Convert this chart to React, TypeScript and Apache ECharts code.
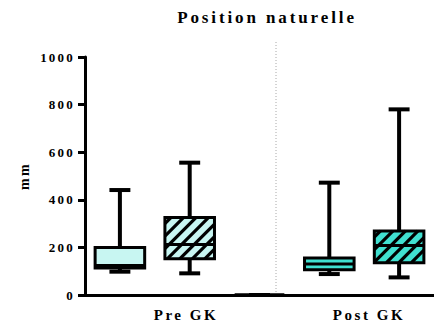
import React, { useEffect, useRef } from "react";
import * as echarts from "echarts";

// ---- data ----
const categories = ["Pre GK (1)", "Pre GK (2)", "", "Post GK (1)", "Post GK (2)"];
const groupLabels = ["Pre GK", "Post GK"];
const whiskerLow = [98, 91, 0, 88, 74];
const quartile1 = [113, 152, 0, 106, 136];
const medians = [124, 212, 0, 130, 208];
const quartile3 = [200, 326, 0, 155, 269];
const whiskerHigh = [441, 556, 0, 472, 780];
const yTicks = [0, 200, 400, 600, 800, 1000];
const titleText = "Position naturelle";
const yName = "mm";

// ---- styles ----
const FONT = "'Liberation Serif', 'Times New Roman', serif";
const fills = ["#c8f6f2", "#c8f6f2", "#ffffff", "#40e0d0", "#40e0d0"];
const hatched = [false, true, false, false, true];

export default function App() {
  const ref = useRef<HTMLDivElement>(null);

  useEffect(() => {
    document.body.style.margin = "0";
    if (!ref.current) return;
    const chart = echarts.init(ref.current, null, { renderer: "svg" });

    const data = categories.map((_, i) => [
      i,
      whiskerLow[i],
      quartile1[i],
      medians[i],
      quartile3[i],
      whiskerHigh[i],
    ]);

    const renderItem = (params: any, api: any) => {
      const i = api.value(0);
      const lo = api.value(1);
      const q1 = api.value(2);
      const med = api.value(3);
      const q3 = api.value(4);
      const hi = api.value(5);
      const cx = api.coord([i, 0])[0];
      const band = api.size([1, 0])[0];
      const bw = band * 0.71;
      const cw = band * 0.3;
      const y = (v: number) => api.coord([i, v])[1];
      const x0 = cx - bw / 2;
      const x1 = cx + bw / 2;
      const yt = y(q3);
      const yb = y(q1);
      const children: any[] = [];
      const black = "#000";
      children.push({
        type: "line",
        shape: { x1: cx, y1: y(hi), x2: cx, y2: y(lo) },
        style: { stroke: black, lineWidth: 4 },
      });
      children.push({
        type: "line",
        shape: { x1: cx - cw / 2, y1: y(hi), x2: cx + cw / 2, y2: y(hi) },
        style: { stroke: black, lineWidth: 4 },
      });
      children.push({
        type: "line",
        shape: { x1: cx - cw / 2, y1: y(lo), x2: cx + cw / 2, y2: y(lo) },
        style: { stroke: black, lineWidth: 4 },
      });
      children.push({
        type: "rect",
        shape: { x: x0, y: yt, width: bw, height: yb - yt },
        style: { fill: fills[i], stroke: "none" },
      });
      if (hatched[i]) {
        const p = 12.5;
        const cMin = x0 + yt;
        const cMax = x1 + yb;
        for (let c = cMin + p / 2; c < cMax; c += p) {
          const xa = Math.max(x0, c - yb);
          const xb = Math.min(x1, c - yt);
          if (xb <= xa) continue;
          children.push({
            type: "line",
            shape: { x1: xa, y1: c - xa, x2: xb, y2: c - xb },
            style: { stroke: black, lineWidth: 3.2 },
          });
        }
      }
      children.push({
        type: "line",
        shape: { x1: x0, y1: y(med), x2: x1, y2: y(med) },
        style: { stroke: black, lineWidth: 3 },
      });
      children.push({
        type: "rect",
        shape: { x: x0, y: yt, width: bw, height: yb - yt },
        style: { fill: "none", stroke: black, lineWidth: 3 },
      });
      return { type: "group", children };
    };

    const textBase = { fontFamily: FONT, fontWeight: "bold", fill: "#000", textAlign: "center", textVerticalAlign: "middle" };

    chart.setOption({
      animation: false,
      backgroundColor: "#ffffff",
      grid: { left: 85, top: 57, height: 238, width: 359 },
      xAxis: {
        type: "category",
        data: categories,
        axisLine: { lineStyle: { color: "#000", width: 3 } },
        axisTick: { show: false },
        axisLabel: { show: false },
        splitLine: { show: false },
      },
      yAxis: {
        type: "value",
        min: yTicks[0],
        max: yTicks[yTicks.length - 1],
        interval: 200,
        name: yName,
        nameLocation: "middle",
        nameRotate: 90,
        nameGap: 54,
        nameTextStyle: { fontFamily: FONT, fontWeight: "bold", fontSize: 14, color: "#000" },
        axisLine: { show: true, lineStyle: { color: "#000", width: 3 } },
        axisTick: { show: true, length: 7, lineStyle: { color: "#000", width: 3 } },
        axisLabel: {
          fontFamily: FONT,
          fontWeight: "bold",
          fontSize: 13,
          color: "#000",
          margin: 10,
          formatter: (v: number) => String(v),
        },
        splitLine: { show: false },
      },
      series: [
        {
          type: "custom",
          renderItem,
          data,
          encode: { x: 0, y: [1, 2, 3, 4, 5] },
          clip: false,
        },
      ],
      graphic: [
        { type: "text", x: 267, y: 17, style: { ...textBase, text: titleText, fontSize: 17 } },
        { type: "text", x: 186, y: 314.5, style: { ...textBase, text: groupLabels[0], fontSize: 15 } },
        { type: "text", x: 369, y: 314.5, style: { ...textBase, text: groupLabels[1], fontSize: 15 } },
        {
          type: "line",
          shape: { x1: 276, y1: 42, x2: 276, y2: 293 },
          style: { stroke: "#a8a8a8", lineWidth: 1, lineDash: [1, 2] },
          z: 1,
        },
      ],
    });

    return () => chart.dispose();
  }, []);

  return (
    <>
      <style>{`.chart-box text { letter-spacing: 0.17em; }`}</style>
      <div className="chart-box" ref={ref} style={{ width: 434, height: 324 }} />
    </>
  );
}
